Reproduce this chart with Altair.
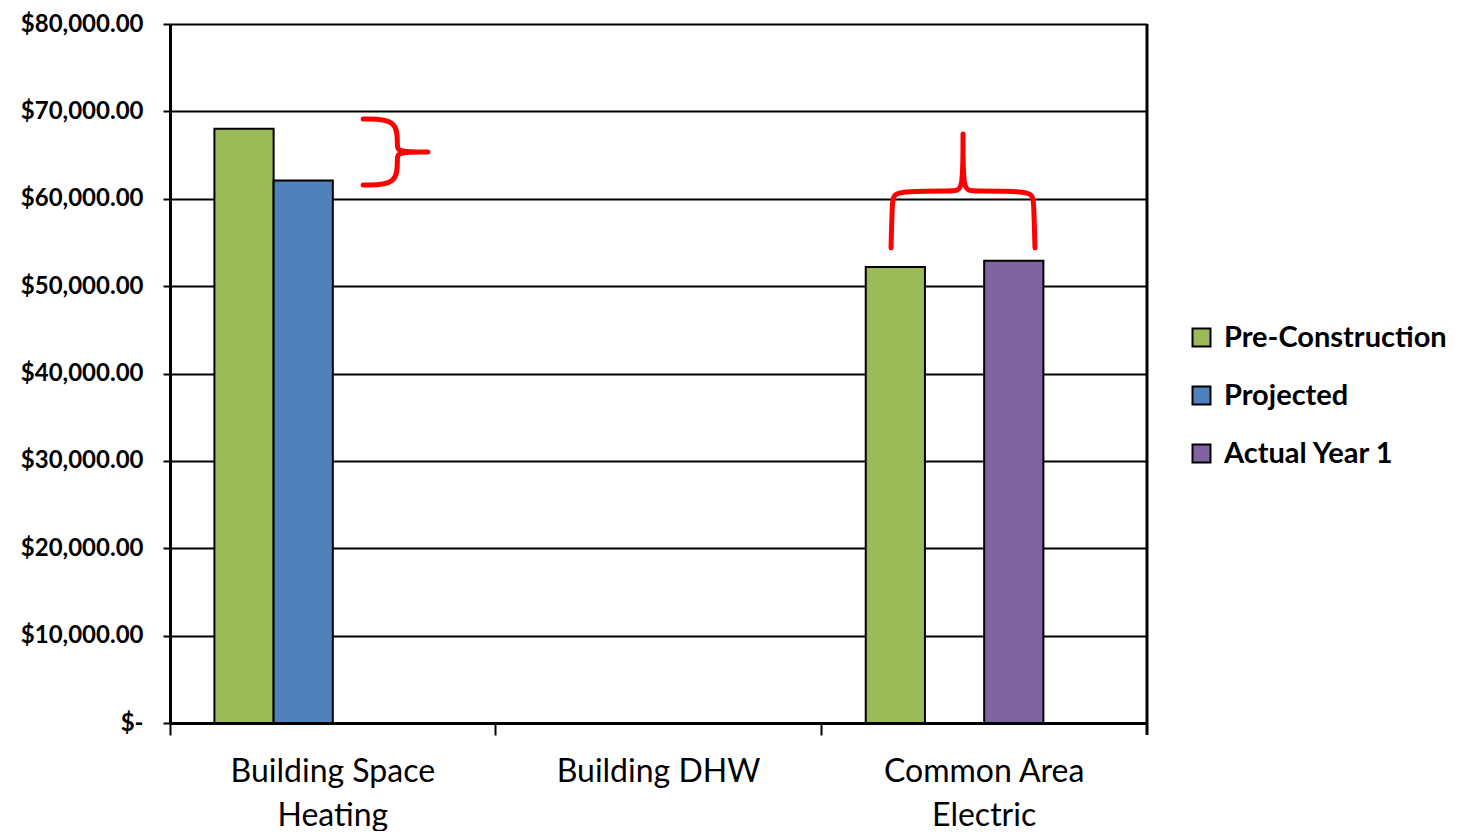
import altair as alt
import pandas as pd

# ---- data ----
categories = ["Building Space|Heating", "Building DHW", "Common Area|Electric"]
series = ["Pre-Construction", "Projected", "Actual Year 1", "Actual Year 2"]
colors = ["#9BBB59", "#4F81BD", "#8064A2", "#FFFFFF"]
pre_construction = [68000, None, 52200]
projected = [62100, None, None]
actual_year_1 = [None, None, 52900]
actual_year_2 = [None, None, None]
y_ticks = [0, 10000, 20000, 30000, 40000, 50000, 60000, 70000, 80000]

# red annotation braces (x in category units 0..3, y in dollars)
brace1_x = [0.593, 0.700, 0.697, 0.700, 0.792, 0.792, 0.792, 0.700, 0.697, 0.700, 0.593]
brace1_y = [69130, 69130, 66040, 65350, 65350, 65350, 65350, 65350, 64660, 61570, 61570]
brace2_x = [2.214, 2.218, 2.223, 2.410, 2.435, 2.435, 2.435, 2.435, 2.435, 2.460, 2.647, 2.652, 2.656]
brace2_y = [54360, 60000, 60890, 60890, 60890, 67410, 67410, 67410, 60890, 60890, 60890, 60000, 54360]

# ---- build tables ----
rows = []
for s, vals in zip(series, [pre_construction, projected, actual_year_1, actual_year_2]):
    for c, v in zip(categories, vals):
        if v is not None:
            rows.append({"category": c, "series": s, "value": v})
df = pd.DataFrame(rows)

brace_rows = []
for name, xs, ys in [("b1", brace1_x, brace1_y), ("b2", brace2_x, brace2_y)]:
    for i, (bx, by) in enumerate(zip(xs, ys)):
        brace_rows.append({"brace": name, "i": i, "bx": bx, "by": by})
brace_df = pd.DataFrame(brace_rows)

W, H = 977, 699
FONT = "Lato"

bars = alt.Chart(df).mark_bar(stroke="black", strokeWidth=2).encode(
    x=alt.X(
        "category:N",
        sort=categories,
        scale=alt.Scale(domain=categories, paddingInner=0, paddingOuter=0),
        axis=alt.Axis(
            title=None,
            labelAngle=0,
            bandPosition=0,
            labelExpr="split(datum.label, '|')",
            labelAlign="center",
            labelBaseline="top",
            labelFont=FONT,
            labelFontSize=32,
            labelColor="black",
            labelLineHeight=44,
            labelPadding=21,
            labelLimit=600,
            labelOverlap=False,
            labelBound=False,
            tickSize=12,
            tickWidth=2,
            tickColor="black",
            domainColor="black",
            domainWidth=3,
            grid=False,
        ),
    ),
    xOffset=alt.XOffset(
        "series:N",
        scale=alt.Scale(domain=series, paddingInner=0, paddingOuter=0.75),
    ),
    y=alt.Y(
        "value:Q",
        scale=alt.Scale(domain=[0, 80000], nice=False),
        axis=alt.Axis(
            title=None,
            values=y_ticks,
            labelExpr="datum.value == 0 ? '$-\u00a0\u00a0\u00a0' : format(datum.value, '$,.2f')",
            labelFont=FONT,
            labelFontSize=24,
            labelFontWeight="bold",
            labelColor="black",
            labelPadding=20,
            labelLimit=400,
            tickSize=7,
            tickWidth=2,
            tickColor="black",
            domainColor="black",
            domainWidth=3,
            grid=True,
            gridColor="black",
            gridWidth=2,
            gridOpacity=1,
        ),
    ),
    color=alt.Color(
        "series:N",
        scale=alt.Scale(domain=series, range=colors),
        legend=alt.Legend(
            values=series[:3],
            title=None,
            orient="none",
            legendX=1017,
            legendY=299,
            symbolType="square",
            symbolSize=324,
            symbolStrokeColor="black",
            symbolStrokeWidth=2,
            labelFont=FONT,
            labelFontSize=29,
            labelFontWeight="bold",
            labelColor="black",
            labelLimit=600,
            labelOffset=8,
            rowPadding=28,
        ),
    ),
)

braces = alt.Chart(brace_df).mark_line(
    color="red", strokeWidth=5, interpolate="basis", strokeCap="round", strokeJoin="round"
).encode(
    x=alt.X("bx:Q", scale=alt.Scale(domain=[0, 3], nice=False, zero=False), axis=None),
    y=alt.Y("by:Q", scale=alt.Scale(domain=[0, 80000], nice=False), title=None),
    detail="brace:N",
    order="i:Q",
)

right_edge = alt.Chart(pd.DataFrame({"a": [0]})).mark_rule(color="black", strokeWidth=3).encode(
    x=alt.value(W), y=alt.value(0), y2=alt.value(H + 12)
)

chart = (
    alt.layer(bars, braces, right_edge)
    .resolve_scale(x="independent")
    .properties(width=W, height=H, padding={"left": 20, "top": 12, "right": 0, "bottom": 0})
    .configure_view(stroke=None)
    .configure(background="white")
)

chart.save("out.html", embed_options={"renderer": "svg", "actions": False})
